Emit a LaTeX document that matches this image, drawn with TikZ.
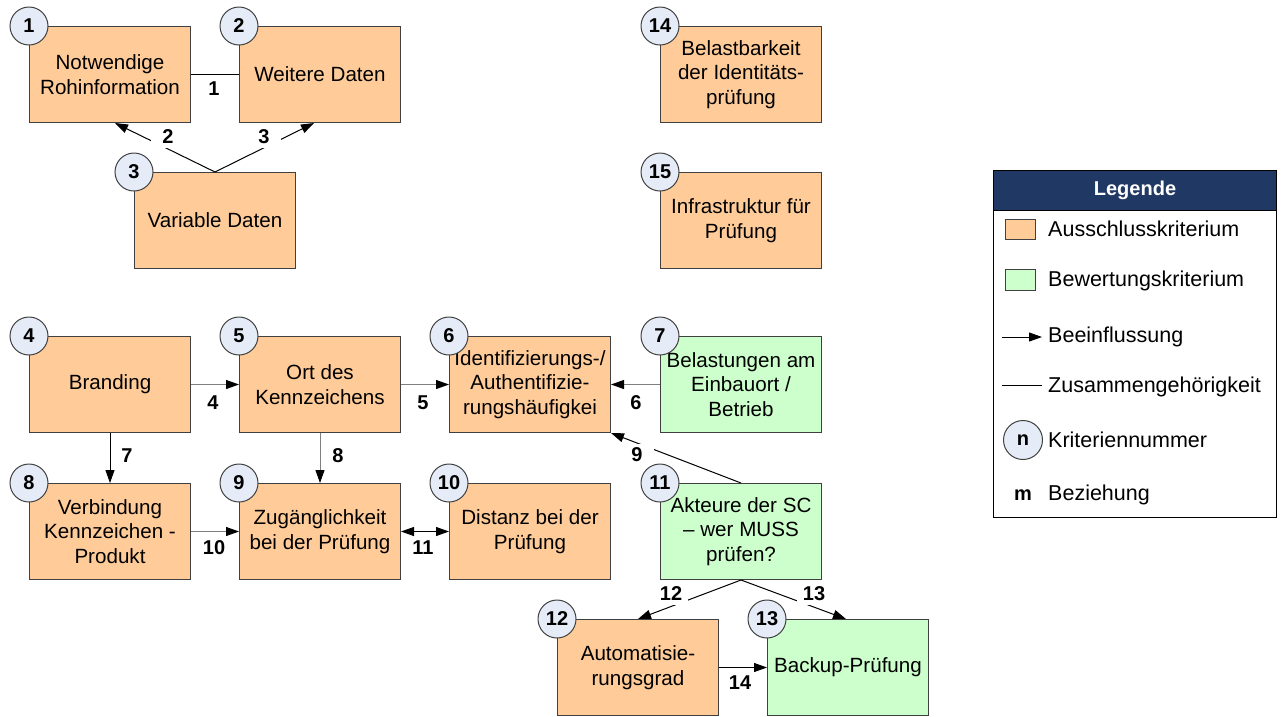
\documentclass[tikz,border=0pt]{standalone}
\usepackage{fontspec}
\setmainfont{Liberation Sans}
\usetikzlibrary{arrows.meta}
\definecolor{orangefill}{HTML}{FFCC99}
\definecolor{greenfill}{HTML}{CCFFCC}
\definecolor{circfill}{HTML}{E6ECF7}
\definecolor{bordergray}{HTML}{404040}
\definecolor{navyhead}{HTML}{203864}
\definecolor{arrgray}{HTML}{7F7F7F}
\tikzset{
  crit/.style={draw=bordergray, line width=1pt, minimum width=161pt, minimum height=96pt,
    anchor=north west, align=center, inner sep=0pt, font=\fontsize{20.6}{24.5}\selectfont},
  excl/.style={crit, fill=orangefill},
  evalc/.style={crit, fill=greenfill},
  numc/.style={circle, draw=bordergray, fill=circfill, line width=1pt, minimum size=38pt,
    inner sep=0pt, font=\fontsize{20}{24}\selectfont\bfseries},
  rel/.style={font=\fontsize{20}{24}\selectfont\bfseries, inner sep=0pt, minimum width=34pt, minimum height=22pt},
  relw/.style={rel, fill=white},
  infl/.style={-{Triangle[length=13pt,width=9pt,color=black]}, line width=1pt, draw=black},
  inflg/.style={infl, draw=arrgray},
  both/.style={{Triangle[length=13pt,width=9pt]}-{Triangle[length=13pt,width=9pt]}, line width=1pt},
  link/.style={line width=1pt},
  legtext/.style={anchor=west, inner sep=0pt, font=\fontsize{21.5}{25}\selectfont},
}
\begin{document}
\begin{tikzpicture}[x=1pt,y=-1pt]
\useasboundingbox[fill=white] (0,0) rectangle (1282,716);

% boxes
\node[excl] (b1) at (29,26) {Notwendige\\Rohinformation};
\node[excl] (b2) at (239,26) {Weitere Daten};
\node[excl] (b3) at (134,172) {Variable Daten};
\node[excl] (b14) at (660,26) {Belastbarkeit\\der Identitäts-\\prüfung};
\node[excl] (b15) at (660,172) {Infrastruktur für\\Prüfung};
\node[excl] (b4) at (29,336) {Branding};
\node[excl] (b5) at (239,336) {Ort des\\Kennzeichens};
\node[excl] (b6) at (449,336) {Identifizierungs-/\\Authentifizie-\\rungshäufigkei};
\node[evalc] (b7) at (660,336) {Belastungen am\\Einbauort /\\Betrieb};
\node[excl] (b8) at (29,483) {Verbindung\\Kennzeichen -\\Produkt};
\node[excl] (b9) at (239,483) {Zugänglichkeit\\bei der Prüfung};
\node[excl] (b10) at (449,483) {Distanz bei der\\Prüfung};
\node[evalc] (b11) at (660,483) {Akteure der SC\\– wer MUSS\\prüfen?};
\node[excl] (b12) at (557,619) {Automatisie-\\rungsgrad};
\node[evalc] (b13) at (767,619) {Backup-Prüfung};

% connectors
\draw[link] (b1.east) -- (b2.west);
\draw[infl] (b3.north) -- ([xshift=5pt]b1.south);
\draw[infl] (b3.north) -- ([xshift=-6pt]b2.south);
\draw[inflg] (b4.east) -- (b5.west);
\draw[inflg] (b5.east) -- (b6.west);
\draw[inflg] (b7.west) -- (b6.east);
\draw[infl] (b4.south) -- (b8.north);
\draw[inflg] (b5.south) -- (b9.north);
\draw[inflg] (b8.east) -- (b9.west);
\draw[both] (b9.east) -- (b10.west);
\draw[infl] (b11.north) -- (b6.south east);
\draw[infl] (b11.south) -- (b12.north);
\draw[infl] (b11.south) -- ([xshift=-2pt]b13.north);
\draw[infl] (b12.east) -- (b13.west);

% relation labels
\node[rel] (l1) at (214,89) {1};
\node[relw] (l2) at (168,137) {2};
\node[relw] (l3) at (264,137) {3};
\node[rel] (l4) at (213,403) {4};
\node[rel] (l5) at (423,403) {5};
\node[rel] (l6) at (636,403) {6};
\node[rel] (l7) at (127,456) {7};
\node[rel] (l8) at (338,456) {8};
\node[relw] (l9) at (637,455) {9};
\node[rel] (l10) at (214,548) {10};
\node[rel] (l11) at (423,548) {11};
\node[relw] (l12) at (671,594) {12};
\node[relw] (l13) at (814,594) {13};
\node[rel] (l14) at (740,683) {14};

% number circles
\node[numc] (c1) at (b1.north west) {1};
\node[numc] (c2) at (b2.north west) {2};
\node[numc] (c3) at (b3.north west) {3};
\node[numc] (c14) at (b14.north west) {14};
\node[numc] (c15) at (b15.north west) {15};
\node[numc] (c4) at (b4.north west) {4};
\node[numc] (c5) at (b5.north west) {5};
\node[numc] (c6) at (b6.north west) {6};
\node[numc] (c7) at (b7.north west) {7};
\node[numc] (c8) at (b8.north west) {8};
\node[numc] (c9) at (b9.north west) {9};
\node[numc] (c10) at (b10.north west) {10};
\node[numc] (c11) at (b11.north west) {11};
\node[numc] (c12) at (b12.north west) {12};
\node[numc] (c13) at (b13.north west) {13};

% legend
\node[draw=black, line width=1pt, minimum width=283pt, minimum height=347pt, anchor=north west, inner sep=0pt] (leg) at (993,170) {};
\node[draw=black, fill=navyhead, line width=1pt, minimum width=283pt, minimum height=40pt, anchor=north west, inner sep=0pt,
  text=white, font=\fontsize{20}{24}\selectfont\bfseries] (legh) at (993,170) {Legende};
\node[draw=bordergray, fill=orangefill, line width=1pt, minimum width=30pt, minimum height=20pt, inner sep=0pt] (sw1) at (1020,229) {};
\node[legtext] (t1) at (1048,229) {Ausschlusskriterium};
\node[draw=bordergray, fill=greenfill, line width=1pt, minimum width=30pt, minimum height=21pt, inner sep=0pt] (sw2) at (1020,280) {};
\node[legtext] (t2) at (1048,281) {Bewertungskriterium};
\coordinate (la1) at (1002,337);
\coordinate (la2) at (1042,337);
\draw[infl] (la1) -- (la2);
\node[legtext] (t3) at (1048,337) {Beeinflussung};
\coordinate (lb1) at (1002,385);
\coordinate (lb2) at (1042,385);
\draw[link] (lb1) -- (lb2);
\node[legtext] (t4) at (1048,387) {Zusammengehörigkeit};
\node[numc, minimum size=39pt] (lc) at (1023,440) {n};
\node[legtext] (t5) at (1048,440) {Kriteriennummer};
\node[rel] (lm) at (1023,495) {m};
\node[legtext] (t6) at (1048,495) {Beziehung};
\end{tikzpicture}
\end{document}
